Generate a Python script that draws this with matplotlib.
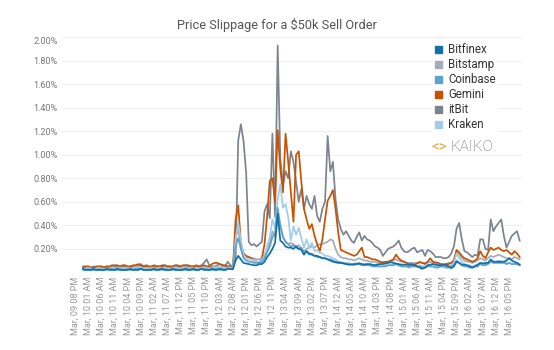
import numpy as np
import pandas as pd
import matplotlib
matplotlib.use("Agg")
import matplotlib.pyplot as plt
from matplotlib.patches import Patch

plt.rcParams["font.family"] = ["Roboto", "DejaVu Sans"]

# hourly slippage (%) for a $50k sell, from Mar 09 11 PM onwards
start = pd.Timestamp("2018-03-09 20:00")
first_hour = 3
tick_times = pd.date_range(start, periods=34, freq="5h")
tick_labels = [t.strftime("%b, %d %I %p") for t in tick_times]

bitfinex = [0.03, 0.02, 0.02, 0.02, 0.03, 0.02, 0.02, 0.02, 0.02, 0.03,
            0.02, 0.02, 0.02, 0.03, 0.02, 0.02, 0.02, 0.02, 0.03, 0.02,
            0.02, 0.02, 0.03, 0.02, 0.02, 0.02, 0.02, 0.03, 0.02, 0.02,
            0.03, 0.02, 0.02, 0.02, 0.03, 0.02, 0.02, 0.02, 0.02, 0.03,
            0.02, 0.02, 0.03, 0.02, 0.02, 0.03, 0.02, 0.02, 0.02, 0.03,
            0.02, 0.02, 0.03, 0.02, 0.02, 0.03, 0.03,
            0.025, 0.10, 0.14, 0.11, 0.08, 0.075, 0.07, 0.065, 0.06, 0.06,
            0.07, 0.07, 0.09, 0.13, 0.16, 0.20, 0.25, 0.50, 0.27, 0.25,
            0.22, 0.21, 0.21, 0.20, 0.22, 0.20, 0.19, 0.15, 0.18, 0.16,
            0.15, 0.14, 0.14, 0.13, 0.12, 0.12, 0.11, 0.10, 0.09, 0.085,
            0.08, 0.08, 0.075, 0.07, 0.065, 0.065, 0.07, 0.07, 0.075, 0.07,
            0.065, 0.07, 0.07, 0.065, 0.06, 0.065, 0.07, 0.07, 0.075, 0.08,
            0.085, 0.08, 0.075, 0.07, 0.065, 0.065, 0.065, 0.06, 0.065, 0.06,
            0.05, 0.04, 0.03, 0.04, 0.06, 0.065, 0.07, 0.065, 0.06, 0.06,
            0.065, 0.06, 0.05, 0.035, 0.05, 0.09, 0.08, 0.065, 0.065, 0.06,
            0.05, 0.04, 0.05, 0.065, 0.08, 0.075, 0.08, 0.08, 0.11, 0.09,
            0.09, 0.09, 0.09, 0.09, 0.10, 0.12, 0.10, 0.09, 0.08, 0.065]

bitstamp = [0.04, 0.04, 0.05, 0.04, 0.04, 0.04, 0.05, 0.04, 0.04, 0.04,
            0.04, 0.05, 0.04, 0.04, 0.05, 0.04, 0.04, 0.05, 0.04, 0.04,
            0.05, 0.05, 0.05, 0.04, 0.04, 0.04, 0.05, 0.04, 0.04, 0.05,
            0.04, 0.05, 0.04, 0.04, 0.04, 0.05, 0.04, 0.04, 0.05, 0.04,
            0.04, 0.05, 0.04, 0.04, 0.04, 0.05, 0.05, 0.05, 0.04, 0.04,
            0.05, 0.05, 0.04, 0.05, 0.04, 0.05, 0.05,
            0.05, 0.30, 0.36, 0.22, 0.16, 0.13, 0.13, 0.12, 0.12, 0.11,
            0.11, 0.12, 0.15, 0.20, 0.25, 0.35, 0.30, 0.45, 0.40, 0.30,
            0.26, 0.24, 0.25, 0.24, 0.22, 0.23, 0.20, 0.18, 0.20, 0.21,
            0.22, 0.21, 0.23, 0.24, 0.24, 0.25, 0.26, 0.28, 0.27, 0.20,
            0.15, 0.13, 0.12, 0.12, 0.11, 0.11, 0.10, 0.11, 0.12, 0.11,
            0.10, 0.10, 0.09, 0.09, 0.09, 0.08, 0.08, 0.08, 0.08, 0.09,
            0.09, 0.10, 0.11, 0.10, 0.09, 0.09, 0.08, 0.08, 0.08, 0.08,
            0.08, 0.09, 0.08, 0.08, 0.08, 0.09, 0.08, 0.08, 0.07, 0.07,
            0.07, 0.07, 0.08, 0.08, 0.10, 0.18, 0.15, 0.12, 0.10, 0.09,
            0.09, 0.08, 0.09, 0.10, 0.12, 0.11, 0.10, 0.12, 0.14, 0.13,
            0.14, 0.15, 0.14, 0.13, 0.12, 0.12, 0.11, 0.13, 0.12, 0.11]

coinbase = [0.02, 0.02, 0.03, 0.02, 0.02, 0.02, 0.03, 0.02, 0.02, 0.02,
            0.03, 0.03, 0.02, 0.02, 0.03, 0.02, 0.02, 0.03, 0.02, 0.02,
            0.03, 0.03, 0.03, 0.02, 0.02, 0.02, 0.03, 0.02, 0.02, 0.03,
            0.02, 0.03, 0.02, 0.02, 0.02, 0.03, 0.02, 0.02, 0.03, 0.02,
            0.02, 0.03, 0.02, 0.02, 0.02, 0.03, 0.03, 0.03, 0.02, 0.02,
            0.03, 0.03, 0.02, 0.03, 0.02, 0.03, 0.03,
            0.03, 0.22, 0.29, 0.20, 0.12, 0.10, 0.09, 0.09, 0.08, 0.08,
            0.08, 0.09, 0.12, 0.17, 0.22, 0.30, 0.33, 0.55, 0.40, 0.30,
            0.26, 0.24, 0.22, 0.23, 0.21, 0.20, 0.21, 0.17, 0.18, 0.15,
            0.16, 0.14, 0.13, 0.13, 0.12, 0.12, 0.11, 0.11, 0.10, 0.09,
            0.09, 0.08, 0.08, 0.07, 0.07, 0.07, 0.06, 0.07, 0.07, 0.06,
            0.06, 0.06, 0.06, 0.05, 0.05, 0.05, 0.05, 0.05, 0.05, 0.06,
            0.06, 0.06, 0.07, 0.06, 0.05, 0.05, 0.05, 0.04, 0.05, 0.05,
            0.05, 0.05, 0.04, 0.04, 0.05, 0.05, 0.05, 0.04, 0.04, 0.05,
            0.05, 0.04, 0.04, 0.05, 0.06, 0.10, 0.08, 0.06, 0.05, 0.05,
            0.04, 0.04, 0.05, 0.05, 0.07, 0.06, 0.06, 0.07, 0.09, 0.08,
            0.08, 0.08, 0.08, 0.08, 0.07, 0.08, 0.07, 0.07, 0.07, 0.06]

gemini = [0.04, 0.05, 0.05, 0.04, 0.04, 0.05, 0.05, 0.05, 0.04, 0.05,
          0.05, 0.06, 0.06, 0.06, 0.05, 0.06, 0.06, 0.05, 0.05, 0.06,
          0.06, 0.07, 0.06, 0.05, 0.06, 0.05, 0.05, 0.06, 0.05, 0.05,
          0.05, 0.06, 0.05, 0.05, 0.05, 0.06, 0.06, 0.05, 0.06, 0.06,
          0.06, 0.05, 0.05, 0.06, 0.05, 0.05, 0.06, 0.05, 0.05, 0.07,
          0.08, 0.08, 0.07, 0.06, 0.06, 0.05, 0.05,
          0.05, 0.45, 0.57, 0.25, 0.16, 0.14, 0.13, 0.12, 0.10, 0.09,
          0.08, 0.12, 0.24, 0.48, 0.78, 0.80, 0.60, 1.21, 0.88, 0.68,
          1.18, 0.94, 0.68, 0.43, 1.00, 1.03, 0.77, 0.54, 0.45, 0.37,
          0.41, 0.31, 0.24, 0.18, 0.28, 0.45, 0.61, 0.65, 0.70, 0.54,
          0.34, 0.19, 0.18, 0.17, 0.16, 0.15, 0.14, 0.15, 0.18, 0.21,
          0.13, 0.13, 0.12, 0.11, 0.11, 0.10, 0.09, 0.085, 0.09, 0.09,
          0.10, 0.11, 0.15, 0.12, 0.10, 0.09, 0.08, 0.07, 0.07, 0.065,
          0.075, 0.085, 0.08, 0.07, 0.09, 0.12, 0.09, 0.085, 0.08, 0.07,
          0.065, 0.07, 0.07, 0.08, 0.10, 0.19, 0.17, 0.14, 0.12, 0.11,
          0.10, 0.09, 0.10, 0.12, 0.18, 0.14, 0.12, 0.17, 0.21, 0.19,
          0.20, 0.21, 0.19, 0.18, 0.19, 0.17, 0.15, 0.18, 0.16, 0.13]

itbit = [0.05, 0.05, 0.04, 0.04, 0.05, 0.04, 0.04, 0.05, 0.04, 0.05,
         0.04, 0.04, 0.05, 0.05, 0.04, 0.05, 0.05, 0.04, 0.05, 0.05,
         0.05, 0.06, 0.07, 0.05, 0.05, 0.04, 0.05, 0.05, 0.05, 0.05,
         0.06, 0.06, 0.05, 0.05, 0.04, 0.05, 0.05, 0.05, 0.05, 0.06,
         0.05, 0.05, 0.05, 0.04, 0.05, 0.06, 0.08, 0.11, 0.06, 0.05,
         0.05, 0.06, 0.07, 0.06, 0.05, 0.09, 0.06,
         0.05, 0.12, 1.12, 1.26, 1.12, 0.85, 0.26, 0.23, 0.24, 0.22,
         0.24, 0.26, 0.52, 0.58, 0.46, 1.18, 0.47, 1.93, 0.97, 0.74,
         0.86, 0.80, 1.03, 0.94, 0.77, 0.60, 0.71, 0.54, 0.65, 0.58,
         0.54, 0.65, 0.48, 0.43, 0.54, 0.60, 1.16, 0.86, 0.94, 0.62,
         0.45, 0.37, 0.32, 0.35, 0.31, 0.27, 0.25, 0.30, 0.34, 0.27,
         0.31, 0.28, 0.27, 0.25, 0.22, 0.21, 0.19, 0.14, 0.17, 0.20,
         0.21, 0.22, 0.24, 0.27, 0.21, 0.18, 0.17, 0.18, 0.20, 0.21,
         0.17, 0.18, 0.19, 0.14, 0.19, 0.18, 0.16, 0.13, 0.13, 0.13,
         0.12, 0.12, 0.13, 0.16, 0.22, 0.37, 0.42, 0.28, 0.18, 0.17,
         0.15, 0.13, 0.15, 0.14, 0.28, 0.28, 0.20, 0.19, 0.45, 0.35,
         0.39, 0.42, 0.45, 0.31, 0.21, 0.26, 0.31, 0.33, 0.35, 0.27]

kraken = [0.03, 0.03, 0.04, 0.03, 0.03, 0.03, 0.04, 0.03, 0.03, 0.03,
          0.03, 0.04, 0.03, 0.03, 0.04, 0.03, 0.03, 0.04, 0.03, 0.03,
          0.04, 0.04, 0.04, 0.03, 0.03, 0.03, 0.04, 0.03, 0.03, 0.04,
          0.03, 0.04, 0.03, 0.03, 0.03, 0.04, 0.03, 0.03, 0.04, 0.03,
          0.03, 0.04, 0.03, 0.03, 0.03, 0.04, 0.04, 0.04, 0.03, 0.03,
          0.04, 0.04, 0.03, 0.04, 0.03, 0.04, 0.04,
          0.04, 0.28, 0.42, 0.27, 0.15, 0.12, 0.11, 0.11, 0.10, 0.09,
          0.09, 0.11, 0.14, 0.22, 0.30, 0.45, 0.38, 0.62, 0.75, 0.55,
          0.58, 0.47, 0.27, 0.39, 0.32, 0.38, 0.29, 0.21, 0.28, 0.21,
          0.25, 0.18, 0.19, 0.165, 0.16, 0.14, 0.14, 0.13, 0.12, 0.11,
          0.09, 0.09, 0.08, 0.08, 0.08, 0.07, 0.07, 0.08, 0.08, 0.07,
          0.07, 0.07, 0.06, 0.06, 0.06, 0.06, 0.05, 0.05, 0.06, 0.06,
          0.06, 0.07, 0.07, 0.06, 0.06, 0.05, 0.05, 0.05, 0.06, 0.05,
          0.05, 0.06, 0.05, 0.05, 0.06, 0.06, 0.05, 0.05, 0.05, 0.05,
          0.05, 0.05, 0.05, 0.06, 0.08, 0.16, 0.12, 0.09, 0.07, 0.06,
          0.06, 0.05, 0.06, 0.06, 0.08, 0.07, 0.07, 0.08, 0.10, 0.09,
          0.09, 0.10, 0.09, 0.09, 0.08, 0.08, 0.07, 0.08, 0.08, 0.07]

names = ["Bitfinex", "Bitstamp", "Coinbase", "Gemini", "itBit", "Kraken"]
values = [bitfinex, bitstamp, coinbase, gemini, itbit, kraken]
colors = ["#1170aa", "#a3acb9", "#5fa2ce", "#c85200", "#7b848f", "#a3cce9"]
draw_order = ["itBit", "Bitstamp", "Gemini", "Kraken", "Coinbase", "Bitfinex"]

for v in values:
    assert len(v) == len(bitfinex)
hours = np.arange(first_hour, first_hour + len(bitfinex))

fig = plt.figure(figsize=(5.54, 3.5), dpi=100)
ax = fig.add_axes([62 / 554, 77.7 / 350, 459.5 / 554, 235 / 350])

for name in draw_order:
    i = names.index(name)
    ax.plot(hours, values[i], color=colors[i], lw=1.25, zorder=3)

ax.set_xlim(-5, 169.7)
ax.set_ylim(0, 2.0)

yt = np.arange(0, 2.01, 0.2)
ax.set_yticks(yt)
ax.set_yticklabels([""] + [f"{v:.2f}%" for v in yt[1:]])
ax.yaxis.grid(True, color="#eeeeee", lw=0.8, zorder=0)
ax.set_xticks(np.arange(len(tick_labels)) * 5)
ax.set_xticklabels(tick_labels, rotation=90)
ax.tick_params(length=0, labelsize=6.5)
ax.tick_params(axis="y", colors="#777777", pad=3)
ax.tick_params(axis="x", colors="#999999", pad=3)
ax.get_yticklabels()[-1].set_va("top")
for s in ax.spines.values():
    s.set_visible(False)

handles = [Patch(facecolor=c, edgecolor=c, label=n) for n, c in zip(names, colors)]
ax.legend(handles=handles, loc="upper left",
          bbox_to_anchor=(432 / 554, 1 - 40.5 / 350), bbox_transform=fig.transFigure,
          frameon=True, fancybox=False, edgecolor="none", facecolor="white",
          framealpha=1, fontsize=8.3, labelcolor="#333333",
          handlelength=0.58, handleheight=0.58, handletextpad=0.55,
          labelspacing=0.17, borderpad=0.25, borderaxespad=0)

fig.text(0.5, 1 - 25 / 350, "Price Slippage for a $50k Sell Order",
         ha="center", va="center", fontsize=9.2, color="#555555")

# Kaiko logo
fig.text(432 / 554, 1 - 147 / 350, "<>", ha="left", va="center",
         fontsize=11, color="#e8a53c")
fig.text(451 / 554, 1 - 147 / 350, "KAIKO", ha="left", va="center",
         fontsize=11, color="#666666", fontweight="light",
         bbox=dict(facecolor="white", edgecolor="none", pad=1))

fig.savefig("out.png", dpi=100)
